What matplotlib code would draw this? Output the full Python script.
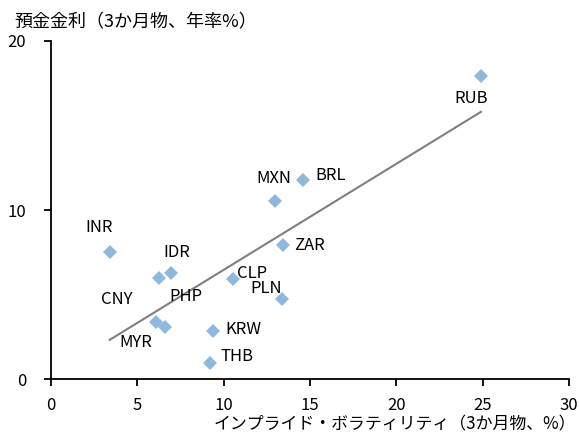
import matplotlib
matplotlib.use("Agg")
import matplotlib.pyplot as plt
import numpy as np

plt.rcParams["font.family"] = ["Noto Sans CJK JP", "DejaVu Sans"]

# Currency, implied volatility (3m, %), deposit rate (3m, annual %)
currencies = ["RUB", "BRL", "MXN", "ZAR", "INR", "CNY", "IDR", "CLP",
              "PLN", "MYR", "PHP", "KRW", "THB"]
volatility = [24.9, 14.6, 13.0, 13.45, 3.4, 6.25, 6.95, 10.55,
              13.4, 6.1, 6.6, 9.4, 9.2]
deposit_rate = [17.95, 11.8, 10.55, 7.9, 7.5, 6.0, 6.3, 5.9,
                4.75, 3.35, 3.05, 2.85, 0.95]

# label offsets in pixels (dx, dy) relative to each marker
label_offsets = {
    "RUB": (-10, -23), "BRL": (28, 4), "MXN": (-2, 22), "ZAR": (26, 0),
    "INR": (-11, 25), "CNY": (-42, -22), "IDR": (6, 20), "CLP": (19, 6),
    "PLN": (-16, 10), "MYR": (-21, -20), "PHP": (21, 31), "KRW": (30, 1),
    "THB": (27, 6),
}

fig = plt.figure(figsize=(5.79, 4.37), dpi=100)
ax = fig.add_axes([0.0881, 0.1327, 0.8946, 0.7735])

x = np.array(volatility)
y = np.array(deposit_rate)

# linear trend line
slope, intercept = np.polyfit(x, y, 1)
xs = np.array([x.min(), x.max()])
ax.plot(xs, slope * xs + intercept, color="#7f7f7f", lw=1.5, zorder=2)

ax.plot(x, y, linestyle="none", marker="D", markersize=7.2,
        color="#8FB9DC", markeredgewidth=0, zorder=3)

for name, xv, yv in zip(currencies, volatility, deposit_rate):
    dx, dy = label_offsets[name]
    ax.annotate(name, (xv, yv), xytext=(dx * 0.72, dy * 0.72),
                textcoords="offset points", ha="center", va="center",
                fontsize=12, color="black")

ax.set_xlim(0, 30)
ax.set_ylim(0, 20)
ax.set_xticks(np.arange(0, 31, 5))
ax.set_yticks([0, 10, 20])
for s in ["top", "right"]:
    ax.spines[s].set_visible(False)
for s in ["left", "bottom"]:
    ax.spines[s].set_linewidth(1.3)
ax.tick_params(direction="out", length=5, width=1.3, labelsize=12)
ax.tick_params(axis="x", pad=8)
ax.tick_params(axis="y", pad=13)

fig.text(0.024, 0.950, "預金金利（3か月物、年率%）", fontsize=13,
         ha="left", va="center")
fig.text(0.995, 0.030, "インプライド・ボラティリティ（3か月物、%）", fontsize=12.2,
         ha="right", va="center")

fig.savefig("out.png", dpi=100)
